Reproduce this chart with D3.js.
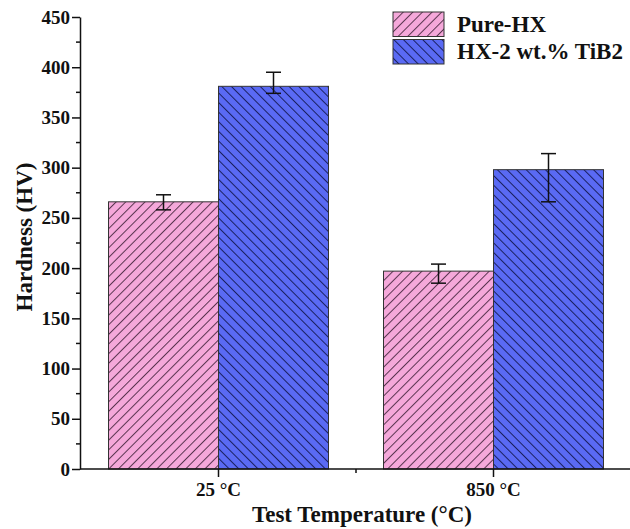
<!DOCTYPE html>
<html>
<head>
    <meta charset="utf-8">
    <title>hardness</title>
    <script type="text/javascript" src="https://cdn.jsdelivr.net/npm/d3@7/dist/d3.min.js"></script>
    <style>
        body { margin: 0; background: #fff; }
        .axis text { font-family: "Liberation Serif", "Times New Roman", serif; font-weight: bold; font-size: 19px; fill: #111; }
        .axis path, .axis line { stroke: #111; stroke-width: 1.5px; }
        .title { font-family: "Liberation Serif", "Times New Roman", serif; font-weight: bold; font-size: 23px; fill: #111; }
        .legend_text { font-family: "Liberation Serif", "Times New Roman", serif; font-weight: bold; font-size: 23px; fill: #111; }
        .bar { stroke: #333; stroke-width: 1px; }
        .errbar { stroke: #111; stroke-width: 1.5px; fill: none; }
    </style>
</head>
<body>
<div id="svg_div"></div>
<script type="text/javascript">
    // data
    var categories = ["25 °C", "850 °C"];
    var seriesNames = ["Pure-HX", "HX-2 wt.% TiB2"];
    var pureHX = [266, 197];
    var pureLow = [258, 185],
        pureHigh = [273, 204];
    var tib2 = [381, 298];
    var tib2Low = [374, 266],
        tib2High = [395, 314];
    var yTicks = [0, 50, 100, 150, 200, 250, 300, 350, 400, 450];

    var width = 630,
        height = 529;

    var fills = ["#f5a8da", "#5a6af4"],
        hatchColors = ["#5a3550", "#1a2060"],
        hatchAngle = [45, -45];

    var svg = d3.select("#svg_div").append("svg")
        .attr("width", width)
        .attr("height", height);

    // hatch patterns
    var defs = svg.append("defs");
    seriesNames.forEach(function(s, i) {
        var p = defs.append("pattern")
            .attr("id", "hatch_" + i)
            .attr("patternUnits", "userSpaceOnUse")
            .attr("width", 6.8)
            .attr("height", 6.8)
            .attr("patternTransform", "rotate(" + hatchAngle[i] + ")");
        p.append("rect")
            .attr("width", 6.8)
            .attr("height", 6.8)
            .attr("fill", fills[i]);
        p.append("line")
            .attr("x1", 0.5).attr("y1", 0)
            .attr("x2", 0.5).attr("y2", 6.8)
            .attr("stroke", hatchColors[i])
            .attr("stroke-width", 1);
    });

    var x = d3.scaleBand()
        .domain(categories)
        .range([81, 631])
        .padding(0);

    var xs = d3.scaleBand()
        .domain(seriesNames)
        .range([x.bandwidth() * 0.1, x.bandwidth() * 0.9]);

    var y = d3.scaleLinear()
        .domain([0, 450])
        .range([469, 17]);

    var rows = categories.map(function(c, i) {
        return [
            {cat: c, s: 0, v: pureHX[i], lo: pureLow[i], hi: pureHigh[i]},
            {cat: c, s: 1, v: tib2[i], lo: tib2Low[i], hi: tib2High[i]}
        ];
    });
    var flat = [].concat.apply([], rows);

    // bars
    svg.selectAll(".bar")
        .data(flat)
        .enter()
        .append("rect")
        .attr("class", "bar")
        .attr("x", function(d) { return x(d.cat) + xs(seriesNames[d.s]); })
        .attr("y", function(d) { return y(d.v); })
        .attr("width", xs.bandwidth())
        .attr("height", function(d) { return y(0) - y(d.v); })
        .attr("fill", function(d) { return "url(#hatch_" + d.s + ")"; });

    // error bars
    var eg = svg.selectAll(".errg")
        .data(flat)
        .enter()
        .append("g")
        .attr("class", "errg")
        .attr("transform", function(d) { return "translate(" + (x(d.cat) + xs(seriesNames[d.s]) + xs.bandwidth() / 2) + ",0)"; });
    eg.append("line").attr("class", "errbar")
        .attr("x1", 0).attr("x2", 0)
        .attr("y1", function(d) { return y(d.lo); })
        .attr("y2", function(d) { return y(d.hi); });
    eg.append("line").attr("class", "errbar")
        .attr("x1", -7.5).attr("x2", 7.5)
        .attr("y1", function(d) { return y(d.hi); })
        .attr("y2", function(d) { return y(d.hi); });
    eg.append("line").attr("class", "errbar")
        .attr("x1", -7.5).attr("x2", 7.5)
        .attr("y1", function(d) { return y(d.lo); })
        .attr("y2", function(d) { return y(d.lo); });

    // y axis
    var yAxis = svg.append("g")
        .attr("class", "axis")
        .attr("transform", "translate(80,0)")
        .call(d3.axisLeft(y).tickValues(yTicks).tickSize(8).tickSizeOuter(0).tickPadding(2));
    yAxis.selectAll(".minor")
        .data(yTicks.slice(0, -1).map(function(t) { return t + 25; }))
        .enter()
        .append("line")
        .attr("class", "minor")
        .attr("x1", -4).attr("x2", 0)
        .attr("y1", function(d) { return y(d); })
        .attr("y2", function(d) { return y(d); });

    // x axis
    var xAxis = svg.append("g")
        .attr("class", "axis")
        .attr("transform", "translate(0,469)")
        .call(d3.axisBottom(x).tickSize(8).tickSizeOuter(0).tickPadding(6));
    xAxis.select(".domain").attr("d", "M80,0H630");
    xAxis.append("line")
        .attr("x1", x(categories[1])).attr("x2", x(categories[1]))
        .attr("y1", 0).attr("y2", 4);

    // titles
    svg.append("text")
        .attr("class", "title")
        .attr("text-anchor", "middle")
        .attr("x", 362)
        .attr("y", 522)
        .text("Test Temperature (°C)");
    svg.append("text")
        .attr("class", "title")
        .attr("text-anchor", "middle")
        .attr("transform", "translate(32,237) rotate(-90)")
        .text("Hardness (HV)");

    // legend
    var legend = svg.selectAll(".legend")
        .data(seriesNames)
        .enter()
        .append("g")
        .attr("class", "legend")
        .attr("transform", function(d, i) { return "translate(393," + (12 + i * 27.5) + ")"; });
    legend.append("rect")
        .attr("class", "bar")
        .attr("width", 51)
        .attr("height", 24.5)
        .attr("fill", function(d, i) { return "url(#hatch_" + i + ")"; });
    legend.append("text")
        .attr("class", "legend_text")
        .attr("x", 64)
        .attr("y", 19.5)
        .text(function(d) { return d; });
</script>
</body>
</html>
